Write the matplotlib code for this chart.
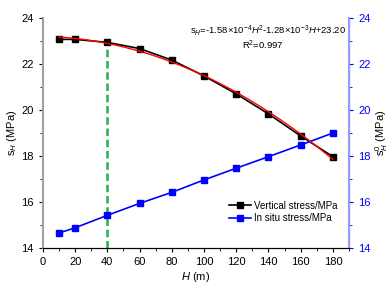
import matplotlib.pyplot as plt
import numpy as np
from matplotlib.ticker import MultipleLocator

plt.rcParams['font.family'] = ['Liberation Sans', 'DejaVu Sans']
plt.rcParams['mathtext.fontset'] = 'custom'
plt.rcParams['mathtext.rm'] = 'Liberation Sans'
plt.rcParams['mathtext.it'] = 'Liberation Sans:italic'

# depth (m)
depth = [10, 20, 40, 60, 80, 100, 120, 140, 160, 180]
# vertical stress (MPa)
vertical = [23.07, 23.07, 22.94, 22.67, 22.17, 21.48, 20.70, 19.83, 18.87, 17.97]
# in situ stress (MPa)
in_situ = [14.65, 14.88, 15.42, 15.94, 16.42, 16.96, 17.47, 17.97, 18.48, 19.00]
# quadratic fit coefficients
fit_a, fit_b, fit_c = -1.58e-4, -1.28e-3, 23.20
mark_depth = 40

fig = plt.figure(figsize=(3.9, 2.93), dpi=100)
ax = fig.add_axes([0.110, 0.1536, 0.785, 0.785])

ax.plot(depth, vertical, color='black', marker='s', markersize=3.8, lw=1.2,
        label='Vertical stress/MPa', zorder=3)
ax.plot(depth, in_situ, color='#0000ff', marker='s', markersize=3.8, lw=1.2,
        label='In situ stress/MPa', zorder=3)

h = np.linspace(depth[0], depth[-1], 200)
ax.plot(h, fit_a * h**2 + fit_b * h + fit_c, color='red', lw=1.0, zorder=4)

top = fit_a * mark_depth**2 + fit_b * mark_depth + fit_c
ax.plot([mark_depth, mark_depth], [14, top], color='#22b14c', lw=1.8,
        ls=(0, (3, 1.5)), zorder=2)

ax.set_xlim(0, 190)
ax.set_ylim(14, 24)
ax.xaxis.set_major_locator(MultipleLocator(20))
ax.xaxis.set_minor_locator(MultipleLocator(10))
ax.yaxis.set_major_locator(MultipleLocator(2))
ax.yaxis.set_minor_locator(MultipleLocator(1))
ax.tick_params(which='both', direction='out', labelsize=8)
ax.tick_params(which='major', length=3)
ax.tick_params(which='minor', length=2)
ax.spines['top'].set_visible(False)
ax.spines['left'].set_color('#a0a0a0')
ax.spines['left'].set_linewidth(1.5)
ax.set_xlabel('$H$ (m)', fontsize=8, labelpad=2)
ax.set_ylabel('s$_{H}$ (MPa)', fontsize=8, labelpad=2)

ax2 = ax.twinx()
ax2.set_ylim(14, 24)
ax2.yaxis.set_major_locator(MultipleLocator(2))
ax2.yaxis.set_minor_locator(MultipleLocator(1))
ax2.tick_params(which='both', direction='out', labelsize=8, colors='#0000ff')
ax2.tick_params(which='major', length=3)
ax2.tick_params(which='minor', length=2)
ax2.spines['right'].set_color('#9999ff')
ax2.spines['right'].set_linewidth(1.5)
ax2.spines['top'].set_visible(False)
ax2.spines['left'].set_visible(False)
ax2.set_ylabel('s$^{0}_{H}$ (MPa)', fontsize=8, labelpad=2, color='black')

ax.text(0.735, 0.945,
        's$_{H}$=-1.58×10$^{-4}$$H^{2}$-1.28×10$^{-3}$$H$+23.20',
        transform=ax.transAxes, ha='center', va='center', fontsize=6.8)
ax.text(0.72, 0.88, 'R$^{2}$=0.997', transform=ax.transAxes,
        ha='center', va='center', fontsize=6.8)

ax.legend(loc='lower right', bbox_to_anchor=(0.99, 0.07), frameon=False,
          fontsize=7, handlelength=2.2, handletextpad=0.3, labelspacing=0.25)

fig.savefig('out.png', dpi=100)
